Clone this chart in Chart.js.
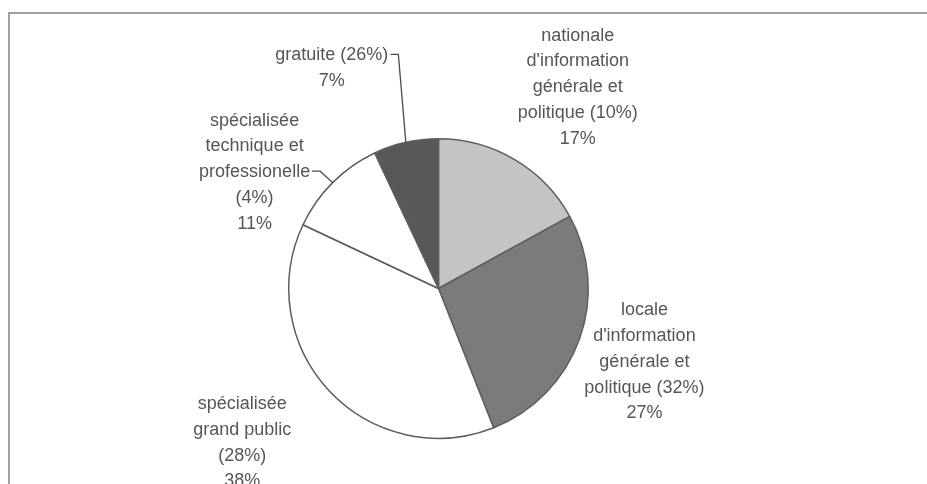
<!DOCTYPE html>
<html>
<head>
<meta charset="utf-8">
<title>Répartition de la presse</title>
<script src="https://cdn.jsdelivr.net/npm/chart.js@4/dist/chart.umd.min.js"></script>
<style>
    html, body { margin: 0; padding: 0; background: #fff; }
    #wrap { width: 927px; height: 484px; }
</style>
</head>
<body>
<div id="wrap"><canvas id="pieChart" width="927" height="484"></canvas></div>
<script>
// Categories (one text line per entry)
const categories = [
    ['nationale', "d'information", 'générale et', 'politique (10%)'],
    ['locale', "d'information", 'générale et', 'politique (32%)'],
    ['spécialisée', 'grand public', '(28%)'],
    ['spécialisée', 'technique et', 'professionelle', '(4%)'],
    ['gratuite (26%)']
];
const values = [17, 27, 38, 11, 7];
const sliceColors = ['#c4c4c4', '#7b7b7b', '#ffffff', '#ffffff', '#585858'];

// label placement relative to the middle of each slice's outer arc
const labelStyle = [
    { dx: 63, dy: -124 },
    { dx: 65, dy: -29 },
    { dx: -87, dy: 13 },
    { dx: -78, dy: -62, leader: 2 },
    { dx: -74, dy: -87, leader: 0 }
];

const lineHeight = 25.8;
const labelFont = '18px "Liberation Sans", Arial, sans-serif';

// Draws the grey frame around the figure
const framePlugin = {
    id: 'frame',
    beforeDraw(chart) {
        const ctx = chart.ctx;
        ctx.save();
        ctx.fillStyle = '#fff';
        ctx.fillRect(0, 0, chart.width, chart.height);
        ctx.strokeStyle = '#a0a0a0';
        ctx.lineWidth = 2;
        ctx.beginPath();
        ctx.moveTo(9, chart.height + 5);
        ctx.lineTo(9, 13);
        ctx.lineTo(chart.width + 5, 13);
        ctx.stroke();
        ctx.restore();
    }
};

// Draws the slice labels and the two leader lines
const labelPlugin = {
    id: 'sliceLabels',
    afterDraw(chart) {
        const ctx = chart.ctx;
        const meta = chart.getDatasetMeta(0);
        ctx.save();
        ctx.font = labelFont;
        ctx.fillStyle = '#565656';
        ctx.textAlign = 'center';
        ctx.textBaseline = 'middle';
        meta.data.forEach((arc, i) => {
            const p = arc.getProps(['x', 'y', 'startAngle', 'endAngle', 'outerRadius'], true);
            const mid = (p.startAngle + p.endAngle) / 2;
            const ax = p.x + Math.cos(mid) * p.outerRadius;
            const ay = p.y + Math.sin(mid) * p.outerRadius;
            const st = labelStyle[i];
            const lx = ax + st.dx;
            const ly = ay + st.dy;
            const lines = categories[i].concat([values[i] + '%']);
            lines.forEach((txt, k) => {
                ctx.fillText(txt, lx, ly + k * lineHeight);
            });
            if (st.leader !== undefined) {
                const w = ctx.measureText(lines[st.leader]).width;
                const y0 = ly + st.leader * lineHeight - 1;
                const x0 = lx + w / 2 + 2;
                ctx.save();
                ctx.strokeStyle = '#4a4a4a';
                ctx.lineWidth = 1.3;
                ctx.beginPath();
                ctx.moveTo(x0, y0);
                ctx.lineTo(x0 + 8, y0);
                ctx.lineTo(ax, ay);
                ctx.stroke();
                ctx.restore();
            }
        });
        ctx.restore();
    }
};

const pieChart = new Chart(document.getElementById('pieChart').getContext('2d'), {
    type: 'pie',
    data: {
        labels: categories.map(c => c.join(' ')),
        datasets: [{
            data: values,
            backgroundColor: sliceColors,
            borderColor: '#5e5e5e',
            borderWidth: 1.5
        }]
    },
    options: {
        responsive: false,
        animation: false,
        layout: {
            padding: { top: 138, bottom: 45, left: 288, right: 338 }
        },
        plugins: {
            legend: { display: false },
            tooltip: { enabled: false }
        }
    },
    plugins: [framePlugin, labelPlugin]
});
</script>
</body>
</html>
